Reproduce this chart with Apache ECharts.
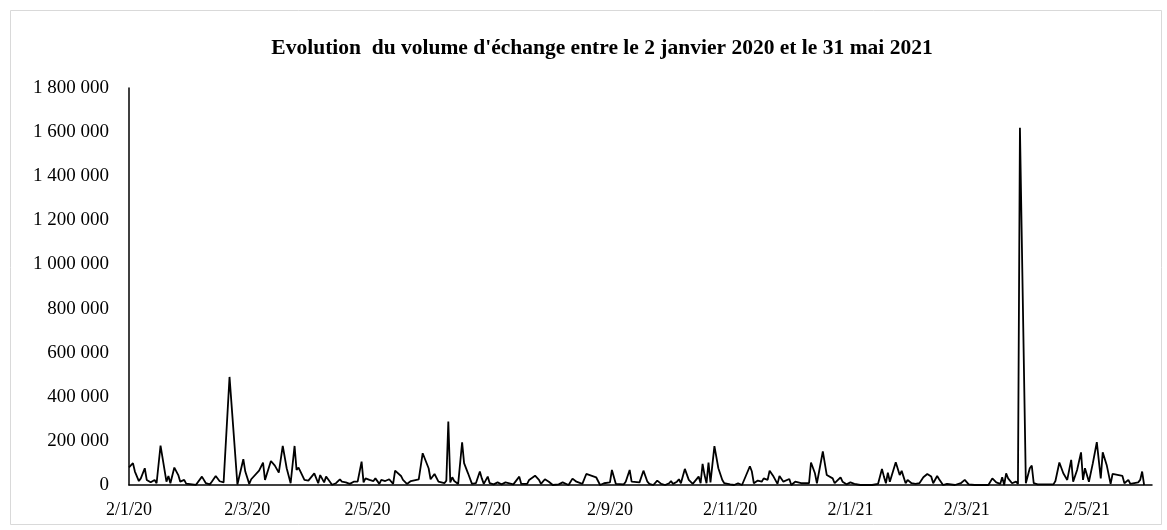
<!DOCTYPE html>
<html>
<head>
<meta charset="utf-8">
<script src="https://cdn.jsdelivr.net/npm/echarts@6/dist/echarts.min.js"></script>
<style>html,body{margin:0;padding:0;background:#fff;}#c{width:1167px;height:530px;}</style>
</head>
<body>
<div id="c"></div>
<script>
// Day offsets counted from 2 Jan 2020
const dayOffsets = [0,2,3,5,6,8,9,11,12,13,14,16,19,20,21,23,25,26,28,29,32,34,37,39,41,42,44,46,47,48,49,51,55,56,58,59,61,62,63,66,68,69,70,72,74,76,77,78,80,82,84,85,86,87,89,91,92,94,96,97,98,99,100,101,103,105,107,108,110,111,112,114,116,118,119,120,122,124,125,127,128,130,131,132,134,135,138,139,140,141,143,144,147,149,150,152,153,155,157,158,160,161,162,163,164,165,167,168,169,170,172,174,176,178,179,180,182,183,185,187,189,191,192,195,198,199,202,203,204,206,208,209,211,213,215,218,220,221,223,225,227,230,232,237,239,241,244,245,247,248,251,252,253,254,255,259,261,263,264,266,268,270,272,274,275,276,278,279,280,282,284,286,289,290,291,292,293,294,295,297,299,301,302,305,307,309,311,315,316,317,319,321,322,324,325,327,329,330,332,333,335,336,338,339,341,345,346,348,349,352,354,357,358,361,362,364,366,368,371,373,377,380,382,383,384,385,386,389,391,392,394,395,397,399,401,403,405,407,408,410,411,413,415,417,419,422,424,426,429,433,436,438,440,442,443,444,445,446,448,450,451,452,455,457,458,459,461,464,469,470,472,474,476,478,479,481,483,484,485,487,489,491,493,494,496,498,499,504,505,507,508,512,513,514,515];
const volumes = [80000,99000,61000,18000,30000,76000,23000,12000,6000,23000,8000,179000,15000,41000,8000,79000,45000,15000,23000,6000,3000,1000,38000,8000,3000,15000,41000,17000,8000,12000,5000,490000,2000,8000,117000,61000,5000,26000,23000,65000,101000,23000,15000,109000,88000,56000,50000,177000,76000,8000,177000,68000,79000,61000,23000,20000,15000,53000,8000,45000,53000,12000,38000,26000,1000,8000,26000,15000,12000,18000,5000,15000,15000,106000,12000,30000,23000,18000,30000,5000,23000,18000,15000,26000,5000,65000,41000,23000,26000,5000,18000,20000,26000,144000,141000,76000,26000,50000,15000,8000,8000,20000,288000,12000,35000,18000,5000,5000,194000,99000,53000,5000,8000,61000,30000,5000,38000,8000,3000,12000,3000,12000,3000,3000,38000,5000,5000,23000,20000,42000,23000,5000,26000,15000,0,3000,12000,5000,0,29000,15000,5000,50000,35000,0,8000,12000,68000,5000,0,3000,15000,8000,68000,15000,12000,65000,15000,5000,0,20000,5000,0,8000,18000,5000,15000,26000,8000,73000,23000,5000,38000,8000,96000,45000,8000,102000,12000,176000,76000,23000,8000,3000,0,8000,0,85000,61000,8000,20000,15000,30000,23000,65000,38000,5000,41000,15000,23000,27000,0,15000,8000,8000,8000,102000,53000,8000,152000,45000,30000,8000,35000,15000,3000,12000,5000,0,0,0,5000,73000,38000,8000,56000,15000,103000,45000,64000,8000,23000,8000,5000,8000,35000,50000,38000,8000,41000,26000,0,5000,3000,0,8000,23000,3000,0,0,0,30000,12000,5000,35000,0,53000,30000,8000,15000,5000,1620000,8000,76000,88000,8000,3000,3000,3000,18000,102000,53000,23000,114000,15000,68000,148000,23000,76000,15000,99000,194000,30000,148000,91000,5000,50000,41000,8000,23000,5000,12000,23000,61000,0];
const tickLabels = ['2/1/20','2/3/20','2/5/20','2/7/20','2/9/20','2/11/20','2/1/21','2/3/21','2/5/21'];
const axisDays = 520;
const yTicks = {min: 0, max: 1800000, step: 200000};

const start = new Date(Date.UTC(2020, 0, 2));
const categories = [];
for (let i = 0; i < axisDays; i++) {
  const d = new Date(start.getTime() + i * 86400000);
  categories.push(d.getUTCDate() + '/' + (d.getUTCMonth() + 1) + '/' + String(d.getUTCFullYear()).slice(2));
}
const seriesData = new Array(axisDays).fill(null);
dayOffsets.forEach((d, i) => { seriesData[d] = volumes[i]; });

const font = "'Liberation Serif', 'Times New Roman', serif";
const chart = echarts.init(document.getElementById('c'), null, {renderer: 'canvas'});
chart.setOption({
  backgroundColor: '#fff',
  animation: false,
  title: {
    text: "Evolution  du volume d'échange entre le 2 janvier 2020 et le 31 mai 2021",
    left: 597, top: 32, textAlign: 'center',
    textStyle: {fontFamily: font, fontSize: 21.5, fontWeight: 'bold', color: '#000'}
  },
  graphic: [{
    type: 'rect', left: 8, top: 8, silent: true,
    shape: {width: 1151, height: 514},
    style: {fill: 'none', stroke: '#d9d9d9', lineWidth: 1}
  }],
  grid: {left: 129, right: 15, top: 88, bottom: 45, containLabel: false},
  xAxis: {
    type: 'category',
    data: categories,
    boundaryGap: false,
    axisLine: {show: true, lineStyle: {color: '#000', width: 1.5}},
    axisTick: {show: false},
    splitLine: {show: false},
    axisLabel: {
      interval: (idx, val) => tickLabels.indexOf(val) >= 0,
      margin: 16,
      fontFamily: font, fontSize: 18, color: '#000'
    }
  },
  yAxis: {
    type: 'value',
    min: yTicks.min, max: yTicks.max, interval: yTicks.step,
    axisLine: {show: true, lineStyle: {color: '#000', width: 1.5}},
    axisTick: {show: false},
    splitLine: {show: false},
    axisLabel: {
      margin: 20,
      fontFamily: font, fontSize: 19, color: '#000',
      formatter: v => String(v).replace(/\B(?=(\d{3})+(?!\d))/g, ' ')
    }
  },
  series: [{
    type: 'line',
    data: seriesData,
    connectNulls: true,
    showSymbol: false,
    symbol: 'none',
    lineStyle: {color: '#000', width: 1.8},
    itemStyle: {color: '#000'}
  }]
});
</script>
</body>
</html>
